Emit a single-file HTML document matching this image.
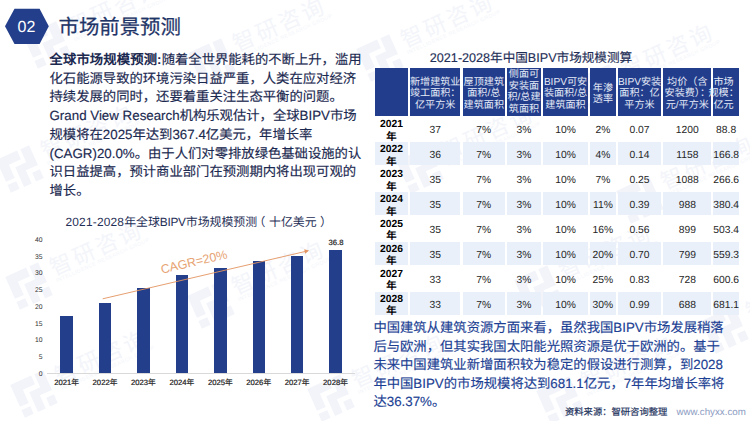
<!DOCTYPE html>
<html lang="zh-CN">
<head>
<meta charset="utf-8">
<title>市场前景预测</title>
<style>
html,body{margin:0;padding:0;}
html{overflow:hidden;}
body{text-rendering:geometricPrecision;width:750px;height:421px;position:relative;overflow:hidden;background:#fff;font-family:"Liberation Sans",sans-serif;color:#1d2b52;}
.abs{position:absolute;white-space:nowrap;}
.title{left:58.5px;top:13.5px;font-size:20.4px;line-height:29px;color:#1f3568;-webkit-text-stroke:0.25px #1f3568;}
.lp{left:49.5px;font-size:13.33px;line-height:19px;color:#1b2950;-webkit-text-stroke:0.15px #1b2950;}
.lp b{letter-spacing:0.12px;-webkit-text-stroke:0;}
.rp{left:373.4px;font-size:13.33px;line-height:19px;color:#1c3f94;-webkit-text-stroke:0.15px #1c3f94;}
.ct{font-size:11.65px;line-height:14px;color:#1f2f57;text-align:center;}
.yl{font-size:6.8px;line-height:8px;color:#333;width:20px;text-align:right;left:22.6px;}
.xl{font-size:7.7px;line-height:9px;color:#1a1a1a;width:38px;text-align:center;-webkit-text-stroke:0.2px #1a1a1a;}
.bar{position:absolute;background:#233e8a;width:12.5px;}
.th{position:absolute;background:#223d8b;top:68px;height:47.7px;}
.tht{position:absolute;white-space:nowrap;text-align:center;color:#e6ecf8;font-size:10.1px;line-height:11.45px;}
.rw{position:absolute;background:#e9f0fa;height:23.1px;}
.td{position:absolute;white-space:nowrap;text-align:center;font-size:10.3px;line-height:12px;color:#262626;}
.ty{position:absolute;white-space:nowrap;text-align:center;font-size:10.3px;line-height:13px;color:#000;font-weight:bold;}
</style>
</head>
<body>
<!-- watermark -->
<svg class="abs" style="left:0;top:0" width="750" height="421" viewBox="0 0 750 421" font-family="Liberation Sans, sans-serif"><g transform="translate(29,286) rotate(-24)"><path transform="scale(1.2)" d="M-15,-15 H4 V-7 H-7 V5 H-15 Z M-15,8 H-7 V15 H-15 Z M-3,-3 H7 V-15 H15 V3 H4 V15 H-3 Z M8,7 H15 V15 H8 Z" fill="#f2f4fa"/><text x="27" y="1" font-size="22" letter-spacing="3" fill="#f3f5fa">智研咨询</text><text x="27" y="8" font-size="5.2" letter-spacing="0.5" fill="#f3f5fa">INTELLIGENCE RESEARCH GROUP</text></g><g transform="translate(211,305) rotate(-24)"><path transform="scale(1.2)" d="M-15,-15 H4 V-7 H-7 V5 H-15 Z M-15,8 H-7 V15 H-15 Z M-3,-3 H7 V-15 H15 V3 H4 V15 H-3 Z M8,7 H15 V15 H8 Z" fill="#f2f4fa"/><text x="27" y="1" font-size="22" letter-spacing="3" fill="#f3f5fa">智研咨询</text><text x="27" y="8" font-size="5.2" letter-spacing="0.5" fill="#f3f5fa">INTELLIGENCE RESEARCH GROUP</text></g><g transform="translate(34,394) rotate(-24)"><path transform="scale(1.2)" d="M-15,-15 H4 V-7 H-7 V5 H-15 Z M-15,8 H-7 V15 H-15 Z M-3,-3 H7 V-15 H15 V3 H4 V15 H-3 Z M8,7 H15 V15 H8 Z" fill="#f2f4fa"/><text x="27" y="1" font-size="22" letter-spacing="3" fill="#f3f5fa">智研咨询</text><text x="27" y="8" font-size="5.2" letter-spacing="0.5" fill="#f3f5fa">INTELLIGENCE RESEARCH GROUP</text></g><g transform="translate(331,398) rotate(-24)"><path transform="scale(1.2)" d="M-15,-15 H4 V-7 H-7 V5 H-15 Z M-15,8 H-7 V15 H-15 Z M-3,-3 H7 V-15 H15 V3 H4 V15 H-3 Z M8,7 H15 V15 H8 Z" fill="#f2f4fa"/><text x="27" y="1" font-size="22" letter-spacing="3" fill="#f3f5fa">智研咨询</text><text x="27" y="8" font-size="5.2" letter-spacing="0.5" fill="#f3f5fa">INTELLIGENCE RESEARCH GROUP</text></g><g transform="translate(538,289) rotate(-24)"><path transform="scale(1.2)" d="M-15,-15 H4 V-7 H-7 V5 H-15 Z M-15,8 H-7 V15 H-15 Z M-3,-3 H7 V-15 H15 V3 H4 V15 H-3 Z M8,7 H15 V15 H8 Z" fill="#f2f4fa"/><text x="27" y="1" font-size="22" letter-spacing="3" fill="#f3f5fa">智研咨询</text><text x="27" y="8" font-size="5.2" letter-spacing="0.5" fill="#f3f5fa">INTELLIGENCE RESEARCH GROUP</text></g><g transform="translate(47,45) rotate(-24)"><path transform="scale(1.2)" d="M-15,-15 H4 V-7 H-7 V5 H-15 Z M-15,8 H-7 V15 H-15 Z M-3,-3 H7 V-15 H15 V3 H4 V15 H-3 Z M8,7 H15 V15 H8 Z" fill="#f2f4fa"/><text x="27" y="1" font-size="22" letter-spacing="3" fill="#f3f5fa">智研咨询</text><text x="27" y="8" font-size="5.2" letter-spacing="0.5" fill="#f3f5fa">INTELLIGENCE RESEARCH GROUP</text></g><g transform="translate(20,169) rotate(-24)"><path transform="scale(1.2)" d="M-15,-15 H4 V-7 H-7 V5 H-15 Z M-15,8 H-7 V15 H-15 Z M-3,-3 H7 V-15 H15 V3 H4 V15 H-3 Z M8,7 H15 V15 H8 Z" fill="#f2f4fa"/><text x="27" y="1" font-size="22" letter-spacing="3" fill="#f3f5fa">智研咨询</text><text x="27" y="8" font-size="5.2" letter-spacing="0.5" fill="#f3f5fa">INTELLIGENCE RESEARCH GROUP</text></g><g transform="translate(212,62) rotate(-24)"><path transform="scale(1.2)" d="M-15,-15 H4 V-7 H-7 V5 H-15 Z M-15,8 H-7 V15 H-15 Z M-3,-3 H7 V-15 H15 V3 H4 V15 H-3 Z M8,7 H15 V15 H8 Z" fill="#f2f4fa"/><text x="27" y="1" font-size="22" letter-spacing="3" fill="#f3f5fa">智研咨询</text><text x="27" y="8" font-size="5.2" letter-spacing="0.5" fill="#f3f5fa">INTELLIGENCE RESEARCH GROUP</text></g><g transform="translate(380,58) rotate(-24)"><path transform="scale(1.2)" d="M-15,-15 H4 V-7 H-7 V5 H-15 Z M-15,8 H-7 V15 H-15 Z M-3,-3 H7 V-15 H15 V3 H4 V15 H-3 Z M8,7 H15 V15 H8 Z" fill="#f2f4fa"/><text x="27" y="1" font-size="22" letter-spacing="3" fill="#f3f5fa">智研咨询</text><text x="27" y="8" font-size="5.2" letter-spacing="0.5" fill="#f3f5fa">INTELLIGENCE RESEARCH GROUP</text></g><g transform="translate(600,88) rotate(-24)"><path transform="scale(1.2)" d="M-15,-15 H4 V-7 H-7 V5 H-15 Z M-15,8 H-7 V15 H-15 Z M-3,-3 H7 V-15 H15 V3 H4 V15 H-3 Z M8,7 H15 V15 H8 Z" fill="#f2f4fa"/><text x="27" y="1" font-size="22" letter-spacing="3" fill="#f3f5fa">智研咨询</text><text x="27" y="8" font-size="5.2" letter-spacing="0.5" fill="#f3f5fa">INTELLIGENCE RESEARCH GROUP</text></g><g transform="translate(420,170) rotate(-24)"><path transform="scale(1.2)" d="M-15,-15 H4 V-7 H-7 V5 H-15 Z M-15,8 H-7 V15 H-15 Z M-3,-3 H7 V-15 H15 V3 H4 V15 H-3 Z M8,7 H15 V15 H8 Z" fill="#f2f4fa"/><text x="27" y="1" font-size="22" letter-spacing="3" fill="#f3f5fa">智研咨询</text><text x="27" y="8" font-size="5.2" letter-spacing="0.5" fill="#f3f5fa">INTELLIGENCE RESEARCH GROUP</text></g><g transform="translate(640,200) rotate(-24)"><path transform="scale(1.2)" d="M-15,-15 H4 V-7 H-7 V5 H-15 Z M-15,8 H-7 V15 H-15 Z M-3,-3 H7 V-15 H15 V3 H4 V15 H-3 Z M8,7 H15 V15 H8 Z" fill="#f2f4fa"/><text x="27" y="1" font-size="22" letter-spacing="3" fill="#f3f5fa">智研咨询</text><text x="27" y="8" font-size="5.2" letter-spacing="0.5" fill="#f3f5fa">INTELLIGENCE RESEARCH GROUP</text></g><g transform="translate(560,400) rotate(-24)"><path transform="scale(1.2)" d="M-15,-15 H4 V-7 H-7 V5 H-15 Z M-15,8 H-7 V15 H-15 Z M-3,-3 H7 V-15 H15 V3 H4 V15 H-3 Z M8,7 H15 V15 H8 Z" fill="#f2f4fa"/><text x="27" y="1" font-size="22" letter-spacing="3" fill="#f3f5fa">智研咨询</text><text x="27" y="8" font-size="5.2" letter-spacing="0.5" fill="#f3f5fa">INTELLIGENCE RESEARCH GROUP</text></g><g transform="translate(725,330) rotate(-24)"><path transform="scale(1.2)" d="M-15,-15 H4 V-7 H-7 V5 H-15 Z M-15,8 H-7 V15 H-15 Z M-3,-3 H7 V-15 H15 V3 H4 V15 H-3 Z M8,7 H15 V15 H8 Z" fill="#f2f4fa"/><text x="27" y="1" font-size="22" letter-spacing="3" fill="#f3f5fa">智研咨询</text><text x="27" y="8" font-size="5.2" letter-spacing="0.5" fill="#f3f5fa">INTELLIGENCE RESEARCH GROUP</text></g></svg>
<!-- badge -->
<svg class="abs" style="left:0;top:0" width="60" height="50" viewBox="0 0 60 50">
<polygon points="5,26.2 14.5,8.8 39.6,8.8 48.8,26.2 39.6,44 14.5,44" fill="#233e8a"/>
</svg>
<div class="abs" style="left:4.4px;top:16.6px;width:44px;text-align:center;font-size:16px;line-height:22px;color:#fff;">02</div>
<div class="abs title">市场前景预测</div>

<!-- left paragraph -->
<div class="abs lp" style="top:50.0px;"><b>全球市场规模预测:</b>随着全世界能耗的不断上升，滥用</div>
<div class="abs lp" style="top:68.7px;">化石能源导致的环境污染日益严重，人类在应对经济</div>
<div class="abs lp" style="top:87.4px;">持续发展的同时，还要着重关注生态平衡的问题。</div>
<div class="abs lp" style="top:106.1px;">Grand View Research机构乐观估计，全球BIPV市场</div>
<div class="abs lp" style="top:124.8px;">规模将在2025年达到367.4亿美元，年增长率</div>
<div class="abs lp" style="top:143.5px;">(CAGR)20.0%。由于人们对零排放绿色基础设施的认</div>
<div class="abs lp" style="top:162.2px;">识日益提高，预计商业部门在预测期内将出现可观的</div>
<div class="abs lp" style="top:180.9px;">增长。</div>

<!-- chart -->
<div class="abs ct" style="left:47px;width:300px;top:215.2px;font-size:11.9px;"><span style="letter-spacing:0.2px">2021-2028</span>年全球<span style="letter-spacing:-0.3px">BIPV</span>市场规模预测<span style="position:relative;left:-3.5px">（</span>十亿美元<span style="position:relative;left:3.5px">）</span></div>
<div class="abs yl" style="top:237.0px;">40</div>
<div class="abs yl" style="top:253.7px;">35</div>
<div class="abs yl" style="top:270.4px;">30</div>
<div class="abs yl" style="top:287.1px;">25</div>
<div class="abs yl" style="top:303.8px;">20</div>
<div class="abs yl" style="top:320.6px;">15</div>
<div class="abs yl" style="top:337.3px;">10</div>
<div class="abs yl" style="top:354.0px;">5</div>
<div class="abs yl" style="top:370.7px;">0</div>
<div class="abs" style="left:47px;top:373px;width:308px;height:1px;background:#d9d9d9;"></div>
<div class="bar" style="left:60.3px;top:315.8px;height:57.2px;"></div>
<div class="bar" style="left:98.8px;top:303.3px;height:69.7px;"></div>
<div class="bar" style="left:137.2px;top:287.5px;height:85.5px;"></div>
<div class="bar" style="left:175.6px;top:275px;height:98.0px;"></div>
<div class="bar" style="left:214.0px;top:268.2px;height:104.8px;"></div>
<div class="bar" style="left:252.5px;top:261.3px;height:111.7px;"></div>
<div class="bar" style="left:290.9px;top:256px;height:117.0px;"></div>
<div class="bar" style="left:329.3px;top:250px;height:123.0px;"></div>
<div class="abs xl" style="left:47.6px;top:378px;">2021年</div>
<div class="abs xl" style="left:86.0px;top:378px;">2022年</div>
<div class="abs xl" style="left:124.4px;top:378px;">2023年</div>
<div class="abs xl" style="left:162.9px;top:378px;">2024年</div>
<div class="abs xl" style="left:201.3px;top:378px;">2025年</div>
<div class="abs xl" style="left:239.7px;top:378px;">2026年</div>
<div class="abs xl" style="left:278.1px;top:378px;">2027年</div>
<div class="abs xl" style="left:316.5px;top:378px;">2028年</div>
<div class="abs xl" style="left:317px;top:237.8px;">36.8</div>
<svg class="abs" style="left:0;top:0" width="375" height="421" viewBox="0 0 375 421">
<line x1="102.7" y1="298.8" x2="307" y2="251.05" stroke="#e39460" stroke-width="0.9" fill="none"/>
<polygon points="309,250.6 304.2,249.3 305.2,253.7" fill="#e39460"/>
</svg>
<div class="abs" style="left:143.5px;top:254px;width:100px;text-align:center;font-size:12.4px;line-height:16px;color:#e7a373;transform:rotate(-13.2deg);">CAGR=20%</div>

<!-- table -->
<div class="abs ct" style="left:420px;width:222px;top:50px;font-size:12.6px;line-height:16px;-webkit-text-stroke:0.15px #1f2f57;">2021-2028年中国BIPV市场规模测算</div>
<div class="th" style="left:375.3px;width:32.4px;"></div>
<div class="th" style="left:409.9px;width:50.6px;"></div>
<div class="th" style="left:462.8px;width:42.0px;"></div>
<div class="th" style="left:507.0px;width:33.9px;"></div>
<div class="th" style="left:543.1px;width:44.8px;"></div>
<div class="th" style="left:590.2px;width:25.4px;"></div>
<div class="th" style="left:617.8px;width:43.4px;"></div>
<div class="th" style="left:663.2px;width:48.2px;"></div>
<div class="th" style="left:713.4px;width:25.5px;"></div>
<div class="tht" style="left:395.2px;width:80px;top:77.0px;">新增建筑业<br>竣工面积：<br>亿平方米</div>
<div class="tht" style="left:443.8px;width:80px;top:77.0px;">屋顶建筑<br>面积/总<br>建筑面积</div>
<div class="tht" style="left:484.0px;width:80px;top:69.4px;">侧面可<br>安装面<br>积/总建<br>筑面积</div>
<div class="tht" style="left:525.5px;width:80px;top:77.0px;">BIPV可安<br>装面积/总<br>建筑面积</div>
<div class="tht" style="left:562.9px;width:80px;top:82.5px;">年渗<br>透率</div>
<div class="tht" style="left:599.5px;width:80px;top:77.0px;">BIPV安装<br>面积：亿<br>平方米</div>
<div class="tht" style="left:647.3px;width:80px;top:77.0px;">均价（含<br>安装费）：<br>元/平方米</div>
<div class="tht" style="left:698.6px;width:50px;top:77.0px;">市场<br>规模：<br>亿元</div>
<div class="ty" style="left:366.5px;width:50px;top:118px;">2021</div>
<div class="ty" style="left:366.5px;width:50px;top:131px;">年</div>
<div class="td" style="left:405.2px;width:60px;top:125px;">37</div>
<div class="td" style="left:453.8px;width:60px;top:125px;">7%</div>
<div class="td" style="left:494.0px;width:60px;top:125px;">3%</div>
<div class="td" style="left:535.5px;width:60px;top:125px;">10%</div>
<div class="td" style="left:572.9px;width:60px;top:125px;">2%</div>
<div class="td" style="left:609.5px;width:60px;top:125px;">0.07</div>
<div class="td" style="left:657.3px;width:60px;top:125px;">1200</div>
<div class="td" style="left:704.1px;width:44px;top:125px;">88.8</div>
<div class="rw" style="left:375.3px;width:32.4px;top:142.4px;"></div>
<div class="rw" style="left:409.9px;width:50.6px;top:142.4px;"></div>
<div class="rw" style="left:462.8px;width:42.0px;top:142.4px;"></div>
<div class="rw" style="left:507.0px;width:33.9px;top:142.4px;"></div>
<div class="rw" style="left:543.1px;width:44.8px;top:142.4px;"></div>
<div class="rw" style="left:590.2px;width:25.4px;top:142.4px;"></div>
<div class="rw" style="left:617.8px;width:43.4px;top:142.4px;"></div>
<div class="rw" style="left:663.2px;width:48.2px;top:142.4px;"></div>
<div class="rw" style="left:713.4px;width:25.5px;top:142.4px;"></div>
<div class="ty" style="left:366.5px;width:50px;top:143px;">2022</div>
<div class="ty" style="left:366.5px;width:50px;top:156px;">年</div>
<div class="td" style="left:405.2px;width:60px;top:150px;">36</div>
<div class="td" style="left:453.8px;width:60px;top:150px;">7%</div>
<div class="td" style="left:494.0px;width:60px;top:150px;">3%</div>
<div class="td" style="left:535.5px;width:60px;top:150px;">10%</div>
<div class="td" style="left:572.9px;width:60px;top:150px;">4%</div>
<div class="td" style="left:609.5px;width:60px;top:150px;">0.14</div>
<div class="td" style="left:657.3px;width:60px;top:150px;">1158</div>
<div class="td" style="left:704.1px;width:44px;top:150px;">166.8</div>
<div class="ty" style="left:366.5px;width:50px;top:168px;">2023</div>
<div class="ty" style="left:366.5px;width:50px;top:181px;">年</div>
<div class="td" style="left:405.2px;width:60px;top:175px;">35</div>
<div class="td" style="left:453.8px;width:60px;top:175px;">7%</div>
<div class="td" style="left:494.0px;width:60px;top:175px;">3%</div>
<div class="td" style="left:535.5px;width:60px;top:175px;">10%</div>
<div class="td" style="left:572.9px;width:60px;top:175px;">7%</div>
<div class="td" style="left:609.5px;width:60px;top:175px;">0.25</div>
<div class="td" style="left:657.3px;width:60px;top:175px;">1088</div>
<div class="td" style="left:704.1px;width:44px;top:175px;">266.6</div>
<div class="rw" style="left:375.3px;width:32.4px;top:192.3px;"></div>
<div class="rw" style="left:409.9px;width:50.6px;top:192.3px;"></div>
<div class="rw" style="left:462.8px;width:42.0px;top:192.3px;"></div>
<div class="rw" style="left:507.0px;width:33.9px;top:192.3px;"></div>
<div class="rw" style="left:543.1px;width:44.8px;top:192.3px;"></div>
<div class="rw" style="left:590.2px;width:25.4px;top:192.3px;"></div>
<div class="rw" style="left:617.8px;width:43.4px;top:192.3px;"></div>
<div class="rw" style="left:663.2px;width:48.2px;top:192.3px;"></div>
<div class="rw" style="left:713.4px;width:25.5px;top:192.3px;"></div>
<div class="ty" style="left:366.5px;width:50px;top:193px;">2024</div>
<div class="ty" style="left:366.5px;width:50px;top:206px;">年</div>
<div class="td" style="left:405.2px;width:60px;top:200px;">35</div>
<div class="td" style="left:453.8px;width:60px;top:200px;">7%</div>
<div class="td" style="left:494.0px;width:60px;top:200px;">3%</div>
<div class="td" style="left:535.5px;width:60px;top:200px;">10%</div>
<div class="td" style="left:572.9px;width:60px;top:200px;">11%</div>
<div class="td" style="left:609.5px;width:60px;top:200px;">0.39</div>
<div class="td" style="left:657.3px;width:60px;top:200px;">988</div>
<div class="td" style="left:704.1px;width:44px;top:200px;">380.4</div>
<div class="ty" style="left:366.5px;width:50px;top:218px;">2025</div>
<div class="ty" style="left:366.5px;width:50px;top:230px;">年</div>
<div class="td" style="left:405.2px;width:60px;top:225px;">35</div>
<div class="td" style="left:453.8px;width:60px;top:225px;">7%</div>
<div class="td" style="left:494.0px;width:60px;top:225px;">3%</div>
<div class="td" style="left:535.5px;width:60px;top:225px;">10%</div>
<div class="td" style="left:572.9px;width:60px;top:225px;">16%</div>
<div class="td" style="left:609.5px;width:60px;top:225px;">0.56</div>
<div class="td" style="left:657.3px;width:60px;top:225px;">899</div>
<div class="td" style="left:704.1px;width:44px;top:225px;">503.4</div>
<div class="rw" style="left:375.3px;width:32.4px;top:242.2px;"></div>
<div class="rw" style="left:409.9px;width:50.6px;top:242.2px;"></div>
<div class="rw" style="left:462.8px;width:42.0px;top:242.2px;"></div>
<div class="rw" style="left:507.0px;width:33.9px;top:242.2px;"></div>
<div class="rw" style="left:543.1px;width:44.8px;top:242.2px;"></div>
<div class="rw" style="left:590.2px;width:25.4px;top:242.2px;"></div>
<div class="rw" style="left:617.8px;width:43.4px;top:242.2px;"></div>
<div class="rw" style="left:663.2px;width:48.2px;top:242.2px;"></div>
<div class="rw" style="left:713.4px;width:25.5px;top:242.2px;"></div>
<div class="ty" style="left:366.5px;width:50px;top:243px;">2026</div>
<div class="ty" style="left:366.5px;width:50px;top:255px;">年</div>
<div class="td" style="left:405.2px;width:60px;top:250px;">35</div>
<div class="td" style="left:453.8px;width:60px;top:250px;">7%</div>
<div class="td" style="left:494.0px;width:60px;top:250px;">3%</div>
<div class="td" style="left:535.5px;width:60px;top:250px;">10%</div>
<div class="td" style="left:572.9px;width:60px;top:250px;">20%</div>
<div class="td" style="left:609.5px;width:60px;top:250px;">0.70</div>
<div class="td" style="left:657.3px;width:60px;top:250px;">799</div>
<div class="td" style="left:704.1px;width:44px;top:250px;">559.3</div>
<div class="ty" style="left:366.5px;width:50px;top:268px;">2027</div>
<div class="ty" style="left:366.5px;width:50px;top:280px;">年</div>
<div class="td" style="left:405.2px;width:60px;top:275px;">33</div>
<div class="td" style="left:453.8px;width:60px;top:275px;">7%</div>
<div class="td" style="left:494.0px;width:60px;top:275px;">3%</div>
<div class="td" style="left:535.5px;width:60px;top:275px;">10%</div>
<div class="td" style="left:572.9px;width:60px;top:275px;">25%</div>
<div class="td" style="left:609.5px;width:60px;top:275px;">0.83</div>
<div class="td" style="left:657.3px;width:60px;top:275px;">728</div>
<div class="td" style="left:704.1px;width:44px;top:275px;">600.6</div>
<div class="rw" style="left:375.3px;width:32.4px;top:292.0px;"></div>
<div class="rw" style="left:409.9px;width:50.6px;top:292.0px;"></div>
<div class="rw" style="left:462.8px;width:42.0px;top:292.0px;"></div>
<div class="rw" style="left:507.0px;width:33.9px;top:292.0px;"></div>
<div class="rw" style="left:543.1px;width:44.8px;top:292.0px;"></div>
<div class="rw" style="left:590.2px;width:25.4px;top:292.0px;"></div>
<div class="rw" style="left:617.8px;width:43.4px;top:292.0px;"></div>
<div class="rw" style="left:663.2px;width:48.2px;top:292.0px;"></div>
<div class="rw" style="left:713.4px;width:25.5px;top:292.0px;"></div>
<div class="ty" style="left:366.5px;width:50px;top:293px;">2028</div>
<div class="ty" style="left:366.5px;width:50px;top:305px;">年</div>
<div class="td" style="left:405.2px;width:60px;top:300px;">33</div>
<div class="td" style="left:453.8px;width:60px;top:300px;">7%</div>
<div class="td" style="left:494.0px;width:60px;top:300px;">3%</div>
<div class="td" style="left:535.5px;width:60px;top:300px;">10%</div>
<div class="td" style="left:572.9px;width:60px;top:300px;">30%</div>
<div class="td" style="left:609.5px;width:60px;top:300px;">0.99</div>
<div class="td" style="left:657.3px;width:60px;top:300px;">688</div>
<div class="td" style="left:704.1px;width:44px;top:300px;">681.1</div>

<!-- right paragraph -->
<div class="abs rp" style="top:318.0px;">中国建筑从建筑资源方面来看，虽然我国BIPV市场发展稍落</div>
<div class="abs rp" style="top:336.6px;">后与欧洲，但其实我国太阳能光照资源是优于欧洲的。基于</div>
<div class="abs rp" style="top:355.2px;">未来中国建筑业新增面积较为稳定的假设进行测算，到2028</div>
<div class="abs rp" style="top:373.8px;">年中国BIPV的市场规模将达到681.1亿元，7年年均增长率将</div>
<div class="abs rp" style="top:392.4px;">达36.37%。</div>
<div class="abs" style="left:565px;top:406px;font-size:9.3px;line-height:13px;color:#27365f;-webkit-text-stroke:0.2px #27365f;">资料来源：智研咨询整理</div>
<div class="abs" style="left:676.5px;top:406px;font-size:9.75px;line-height:13px;color:#8c9cc2;">www.chyxx.com</div>
</body>
</html>
